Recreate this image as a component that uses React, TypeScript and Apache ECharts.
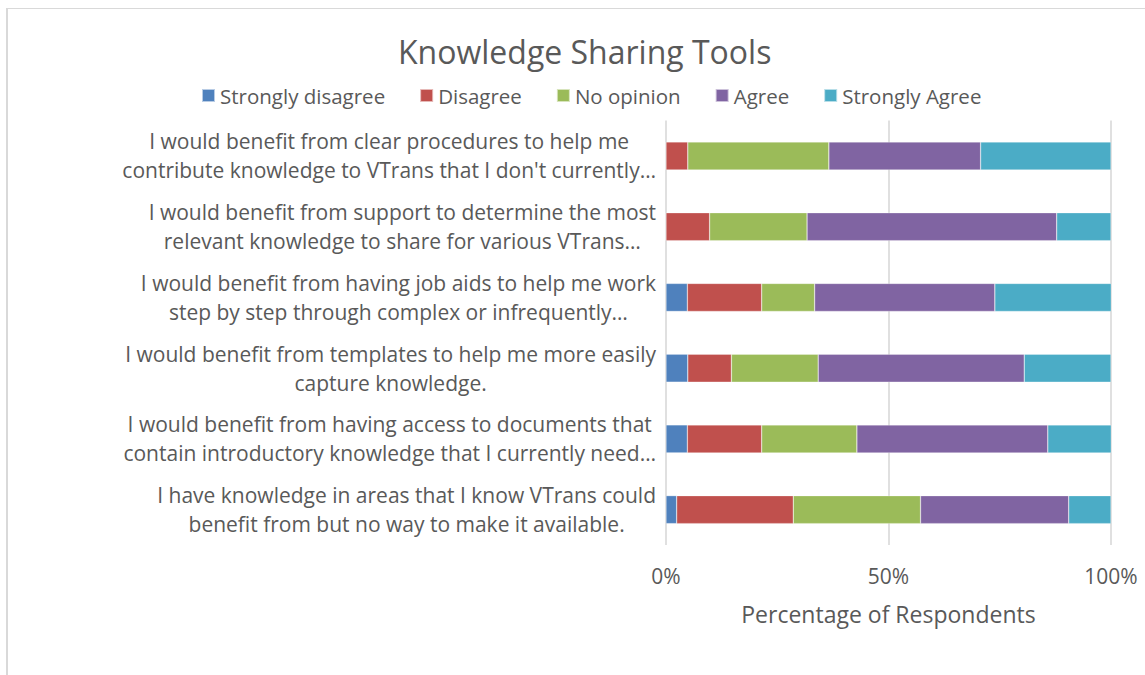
import React, { useEffect, useRef } from "react";
import * as echarts from "echarts";

const categories = [
  "I would benefit from clear procedures to help me\ncontribute knowledge to VTrans that I don't currently…",
  "I would benefit from support to determine the most\nrelevant knowledge to share for various VTrans…",
  "I would benefit from having job aids to help me work\nstep by step through complex or infrequently…",
  "I would benefit from templates to help me more easily\ncapture knowledge.",
  "I would benefit from having access to documents that\ncontain introductory knowledge that I currently need…",
  "I have knowledge in areas that I know VTrans could\nbenefit from but no way to make it available.",
];

const seriesNames = ["Strongly disagree", "Disagree", "No opinion", "Agree", "Strongly Agree"];
const stronglyDisagree = [0, 0, 4.8, 4.9, 4.8, 2.4];
const disagree = [4.9, 9.8, 16.7, 9.8, 16.7, 26.2];
const noOpinion = [31.7, 21.9, 11.9, 19.5, 21.4, 28.6];
const agree = [34.1, 56.1, 40.5, 46.3, 42.9, 33.3];
const stronglyAgree = [29.3, 12.2, 26.2, 19.5, 14.3, 9.5];
const xTicks = [0, 50, 100];
const colors = ["#4F81BD", "#C0504D", "#9BBB59", "#8064A2", "#4BACC6"];

const FONT = "'Open Sans', 'DejaVu Sans', sans-serif";
const TEXT = "#595959";

export default function App() {
  const ref = useRef<HTMLDivElement>(null);
  useEffect(() => {
    document.body.style.margin = "0";
    const chart = echarts.init(ref.current!, null, { renderer: "svg" });
    const values = [stronglyDisagree, disagree, noOpinion, agree, stronglyAgree];
    chart.setOption({
      animation: false,
      textStyle: { fontFamily: FONT, color: TEXT },
      title: {
        text: "Knowledge Sharing Tools",
        left: 393,
        top: 30,
        textStyle: { fontFamily: FONT, fontSize: 32, fontWeight: "normal", color: TEXT },
      },
      legend: {
        top: 80,
        left: 196,
        icon: "rect",
        itemWidth: 13,
        itemHeight: 13,
        itemGap: 34,
        textStyle: { fontFamily: FONT, fontSize: 20.5, color: TEXT },
        data: seriesNames,
      },
      graphic: [
        { type: "line", shape: { x1: 7, y1: 8, x2: 7, y2: 675 }, style: { stroke: "#d9d9d9", lineWidth: 2 } },
        { type: "line", shape: { x1: 6, y1: 8.5, x2: 1145, y2: 8.5 }, style: { stroke: "#d9d9d9", lineWidth: 1 } },
      ],
      grid: { left: 666, right: 34, top: 120.6, bottom: 130, containLabel: false },
      xAxis: {
        type: "value",
        min: 0,
        max: 100,
        interval: 50,
        axisLine: { show: false },
        axisTick: { show: false },
        splitLine: { show: true, lineStyle: { color: "#d9d9d9", width: 1.6 } },
        axisLabel: {
          formatter: (v: number) => (xTicks.includes(v) ? v + "%" : ""),
          fontFamily: FONT,
          fontSize: 21,
          color: TEXT,
          margin: 20,
        },
        name: "Percentage of Respondents",
        nameLocation: "middle",
        nameGap: 57,
        nameTextStyle: { fontFamily: FONT, fontSize: 23, color: TEXT },
      },
      yAxis: {
        type: "category",
        inverse: true,
        data: categories,
        axisLine: { show: false },
        axisTick: { show: false },
        axisLabel: {
          align: "right",
          margin: 10,
          formatter: (v: string) => v.split("\n").map((l) => "{c|" + l + "}").join("\n"),
          rich: {
            c: { align: "center", fontFamily: FONT, fontSize: 21, lineHeight: 29, color: TEXT },
          },
        },
      },
      series: seriesNames.map((name, i) => ({
        name,
        type: "bar",
        stack: "total",
        barWidth: 28,
        data: values[i],
        itemStyle: { color: colors[i], borderColor: "rgba(255,255,255,0.6)", borderWidth: 0.5 },
      })),
    });
    return () => chart.dispose();
  }, []);
  return <div ref={ref} style={{ width: 1145, height: 675 }} />;
}
